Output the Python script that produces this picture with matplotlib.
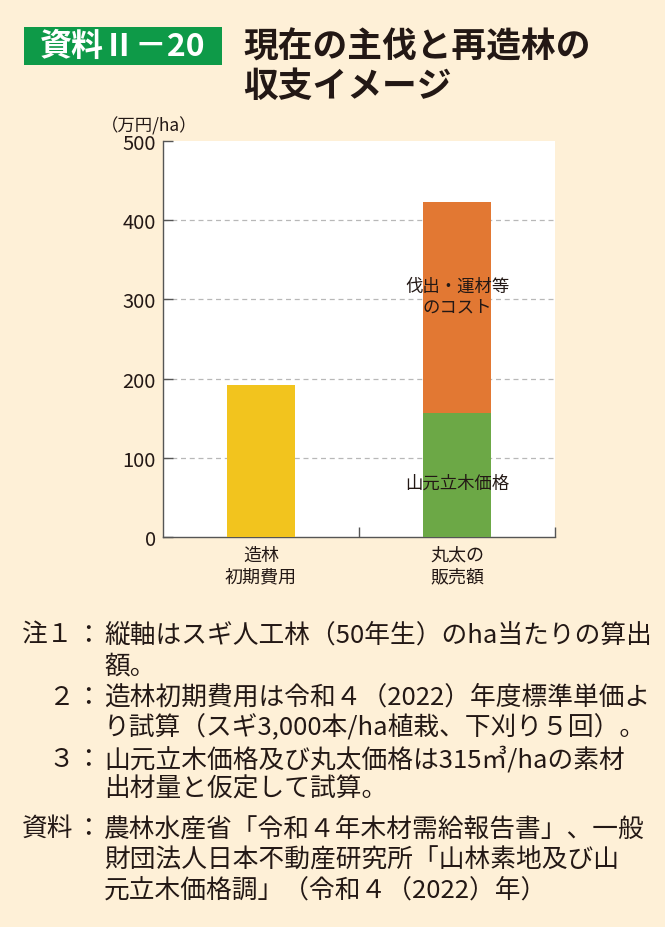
import matplotlib
matplotlib.use("Agg")
import matplotlib.pyplot as plt
from matplotlib.patches import Rectangle

plt.rcParams['font.family'] = ['Noto Sans CJK JP', 'DejaVu Sans']

categories = ["造林\n初期費用", "丸太の\n販売額"]
planting_cost = [192, 0]
stumpage_price = [0, 157]
logging_cost = [0, 266]
yticks = [0, 100, 200, 300, 400, 500]

title_tag = "資料Ⅱ－20"
title_lines = ["現在の主伐と再造林の", "収支イメージ"]
unit_label = "（万円/ha）"
label_cost = "伐出・運材等\nのコスト"
label_stumpage = "山元立木価格"

notes = [
    ("注１", "縦軸はスギ人工林（50年生）のha当たりの算出"),
    ("", "額。"),
    ("２", "造林初期費用は令和４（2022）年度標準単価よ"),
    ("", "り試算（スギ3,000本/ha植栽、下刈り５回）。"),
    ("３", "山元立木価格及び丸太価格は315㎥/haの素材"),
    ("", "出材量と仮定して試算。"),
    ("資料", "農林水産省「令和４年木材需給報告書」、一般"),
    ("", "財団法人日本不動産研究所「山林素地及び山"),
    ("", "元立木価格調」（令和４（2022）年）"),
]
note_y = [636, 667, 698, 728, 760, 790, 829, 860, 891]

BG = "#FEF0D7"
W, H = 665, 928
fig = plt.figure(figsize=(W / 100, H / 100), dpi=100, facecolor=BG)

def fx(px):
    return px / W

def fy(py):
    return 1 - py / H

# Header tag
fig.patches.append(Rectangle((fx(24), fy(66)), fx(222) - fx(24), fy(28) - fy(66),
                             transform=fig.transFigure, facecolor="#0E9A48",
                             edgecolor="none"))
fig.text(fx(123), fy(47), title_tag, color="white", fontsize=23, fontweight="bold",
         ha="center", va="center")
fig.text(fx(243), fy(47), title_lines[0], color="#231815", fontsize=25, fontweight="bold",
         ha="left", va="center")
fig.text(fx(243), fy(86), title_lines[1], color="#231815", fontsize=25, fontweight="bold",
         ha="left", va="center")

ax = fig.add_axes([fx(163), fy(538), fx(555) - fx(163), fy(142) - fy(538)])
ax.set_facecolor("white")
x = [0, 1]
width = 0.35
ax.bar(x, planting_cost, width, color="#F2C41E", zorder=3)
ax.bar(x, stumpage_price, width, color="#6CA846", zorder=3)
ax.bar(x, logging_cost, width, bottom=stumpage_price, color="#E27833", zorder=3)

ax.set_xlim(-0.5, 1.5)
ax.set_ylim(0, 500)
ax.set_yticks(yticks)
ax.set_yticklabels([str(v) for v in yticks], fontsize=14.5, color="#231815")
ax.tick_params(axis="y", direction="in", length=7, width=1, color="#555555", pad=5)
ax.set_xticks(x)
ax.set_xticklabels(categories, fontsize=13, color="#231815", linespacing=1.3)
ax.tick_params(axis="x", which="major", length=0, pad=6)
ax.set_xticks([0.5, 1.5], minor=True)
ax.tick_params(axis="x", which="minor", direction="in", length=7, width=1, color="#555555")

for v in yticks[1:-1]:
    ax.axhline(v, color="#B8B8B8", linewidth=0.9, linestyle=(0, (4, 3)), zorder=1)

for s in ["top", "right"]:
    ax.spines[s].set_visible(False)
for s in ["left", "bottom"]:
    ax.spines[s].set_color("#555555")
    ax.spines[s].set_linewidth(1)

ax.text(1, stumpage_price[1] + logging_cost[1] / 2 + 14, label_cost, ha="center",
        va="center", fontsize=12.5, color="#231815", linespacing=1.25, zorder=4)
ax.text(1, 69, label_stumpage, ha="center", va="center", fontsize=12.5,
        color="#231815", zorder=4)

fig.text(fx(149), fy(126), unit_label, ha="center", va="center", fontsize=12.5,
         color="#231815")

# Notes
for (lead, body), py in zip(notes, note_y):
    if lead:
        if lead in ("注１", "資料"):
            fig.text(fx(22), fy(py), lead, ha="left", va="center", fontsize=18.5,
                     color="#231815")
        else:
            fig.text(fx(74), fy(py), lead, ha="right", va="center", fontsize=18.5,
                     color="#231815")
        fig.text(fx(88), fy(py), "：", ha="center", va="center", fontsize=18.5,
                 color="#231815")
    fig.text(fx(104), fy(py), body, ha="left", va="center", fontsize=18.5,
             color="#231815")

fig.savefig("out.png", dpi=100, facecolor=BG)
